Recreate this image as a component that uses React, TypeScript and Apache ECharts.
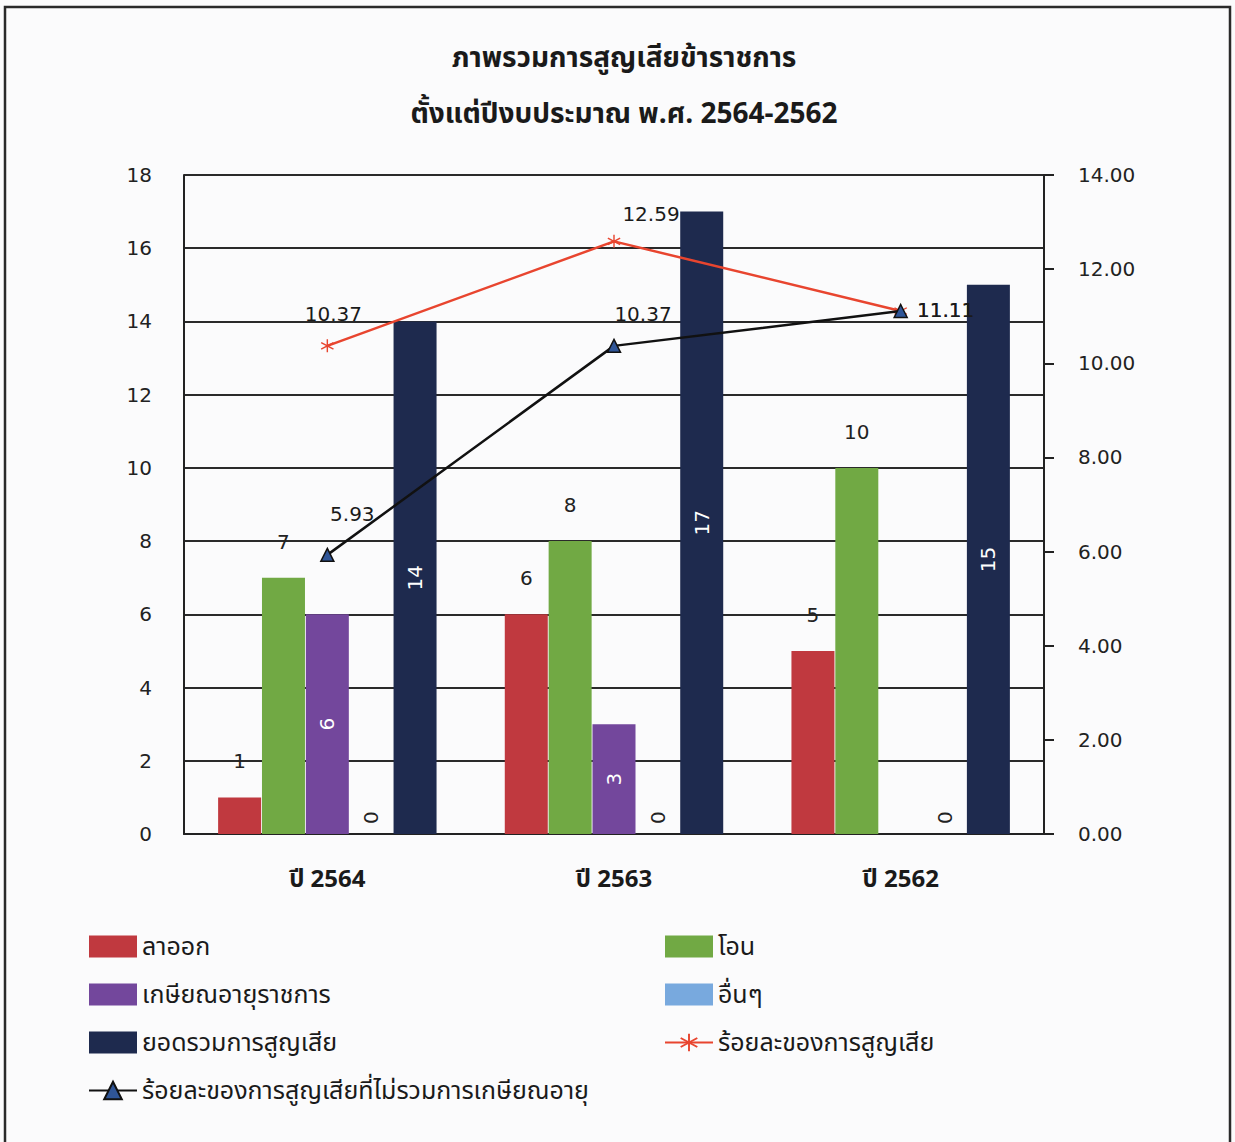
import React, { useEffect, useRef } from "react";
import * as echarts from "echarts";

// Budget years shown on the category axis
const categories = ["ปี 2564", "ปี 2563", "ปี 2562"];

// Head counts (left axis)
const resign = [1, 6, 5];
const transfer = [7, 8, 10];
const retire = [6, 3, 0];
const other = [0, 0, 0];
const totalLoss = [14, 17, 15];

// Percentages (right axis)
const lossPct = [10.37, 12.59, 11.11];
const lossPctExRetire = [5.93, 10.37, 11.11];

// Axis ranges
const leftMax = 18;
const leftStep = 2;
const rightMax = 14;
const rightStep = 2;

const NUM_FONT = "'DejaVu Sans', Verdana, sans-serif";
const THAI_FONT = "'Noto Sans Thai', 'Loma', 'Garuda', 'Norasi', 'Tlwg Typist', sans-serif";

// asterisk marker for the loss-percentage line
const ASTERISK =
  "path://M-1,-10 L1,-10 L1,10 L-1,10 Z M8.16,-5.87 L9.16,-4.13 L-8.16,5.87 L-9.16,4.13 Z M-9.16,-4.13 L-8.16,-5.87 L9.16,4.13 L8.16,5.87 Z";

const redLabelOffsets = [
  [6, -32],
  [37, -27],
  [45, -1],
];
const blackLabelOffsets = [
  [25, -41],
  [29, -32],
  [45, -1],
];

export default function App() {
  const ref = useRef<HTMLDivElement>(null);

  useEffect(() => {
    if (!ref.current) return;
    const chart = echarts.init(ref.current, null, { renderer: "svg" });

    const barLabelTop = {
      show: true,
      position: "top",
      distance: 26,
      fontFamily: NUM_FONT,
      fontSize: 20,
      color: "#222",
    };
    const barLabelInside = {
      show: true,
      position: "inside",
      rotate: 90,
      fontFamily: NUM_FONT,
      fontSize: 20,
      color: "#ffffff",
    };

    const lineData = (vals: number[], offsets: number[][]) =>
      vals.map((v, i) => ({
        value: v,
        label: { offset: offsets[i] },
      }));

    const legendText = { fontFamily: THAI_FONT, fontSize: 25, color: "#1a1a1a", lineHeight: 22 };

    const option: any = {
      animation: false,
      backgroundColor: "#fbfbfc",
      title: {
        text: "ภาพรวมการสูญเสียข้าราชการ\nตั้งแต่ปีงบประมาณ พ.ศ. 2564-2562",
        left: 619,
        textAlign: "center",
        top: 25,
        textStyle: {
          fontFamily: THAI_FONT,
          fontSize: 28,
          fontWeight: "bold",
          color: "#1a1a1a",
          lineHeight: 56,
        },
      },
      graphic: [
        {
          type: "rect",
          shape: { x: 5, y: 7, width: 1225, height: 1170 },
          style: { fill: "none", stroke: "#2a2a2a", lineWidth: 2.5 },
          silent: true,
        },
      ],
      legend: [
        {
          orient: "vertical",
          left: 88,
          top: 934,
          padding: 0,
          itemWidth: 48,
          itemHeight: 22,
          itemGap: 23,
          data: [
            { name: "ลาออก", icon: "rect" },
            { name: "เกษียณอายุราชการ", icon: "rect" },
            { name: "ยอดรวมการสูญเสีย", icon: "rect" },
            "ร้อยละของการสูญเสียที่ไม่รวมการเกษียณอายุ",
          ],
          textStyle: legendText,
        },
        {
          orient: "vertical",
          left: 664,
          top: 934,
          padding: 0,
          itemWidth: 48,
          itemHeight: 22,
          itemGap: 23,
          data: [
            { name: "โอน", icon: "rect" },
            { name: "อื่นๆ", icon: "rect" },
            "ร้อยละของการสูญเสีย",
          ],
          textStyle: legendText,
        },
      ],
      grid: { left: 184, right: 191, top: 175, bottom: 308, containLabel: false },
      xAxis: {
        type: "category",
        data: categories,
        axisLine: { show: true, lineStyle: { color: "#222", width: 2 } },
        axisTick: { show: false },
        axisLabel: {
          margin: 34,
          fontFamily: THAI_FONT,
          fontSize: 24,
          fontWeight: "bold",
          color: "#1a1a1a",
        },
      },
      yAxis: [
        {
          type: "value",
          min: 0,
          max: leftMax,
          interval: leftStep,
          axisLine: { show: true, lineStyle: { color: "#222", width: 2 } },
          axisTick: { show: false },
          splitLine: { show: true, lineStyle: { color: "#2a2a2a", width: 2 } },
          axisLabel: {
            margin: 32,
            fontFamily: NUM_FONT,
            fontSize: 20,
            color: "#222",
          },
        },
        {
          type: "value",
          min: 0,
          max: rightMax,
          interval: rightStep,
          position: "right",
          axisLine: { show: true, lineStyle: { color: "#222", width: 2 } },
          axisTick: { show: true, length: 10, lineStyle: { color: "#222", width: 2 } },
          splitLine: { show: false },
          axisLabel: {
            margin: 34,
            fontFamily: NUM_FONT,
            fontSize: 20,
            color: "#222",
            formatter: (v: number) => v.toFixed(2),
          },
        },
      ],
      series: [
        {
          name: "ลาออก",
          type: "bar",
          data: resign,
          barWidth: 43,
          barGap: "2%",
          itemStyle: { color: "#c0393f" },
          label: barLabelTop,
        },
        {
          name: "โอน",
          type: "bar",
          data: transfer,
          barWidth: 43,
          barGap: "2%",
          itemStyle: { color: "#71a944" },
          label: barLabelTop,
        },
        {
          name: "เกษียณอายุราชการ",
          type: "bar",
          data: retire,
          barWidth: 43,
          barGap: "2%",
          itemStyle: { color: "#73479c" },
          label: {
            ...barLabelInside,
            formatter: (p: any) => (p.value === 0 ? "" : String(p.value)),
          },
        },
        {
          name: "อื่นๆ",
          type: "bar",
          data: other,
          barWidth: 43,
          barGap: "2%",
          itemStyle: { color: "#78a9de" },
          label: {
            show: true,
            position: "top",
            rotate: 90,
            align: "left",
            verticalAlign: "middle",
            distance: 10,
            fontFamily: NUM_FONT,
            fontSize: 20,
            color: "#222",
          },
        },
        {
          name: "ยอดรวมการสูญเสีย",
          type: "bar",
          data: totalLoss,
          barWidth: 43,
          barGap: "2%",
          itemStyle: { color: "#1e2a4e" },
          label: barLabelInside,
        },
        {
          name: "ร้อยละของการสูญเสีย",
          type: "line",
          yAxisIndex: 1,
          data: lineData(lossPct, redLabelOffsets),
          symbol: ASTERISK,
          symbolSize: 13,
          z: 5,
          lineStyle: { color: "#e8452f", width: 2.5 },
          itemStyle: { color: "#e8452f" },
          label: {
            show: true,
            position: "inside",
            fontFamily: NUM_FONT,
            fontSize: 20,
            color: "#1a1a1a",
            formatter: (p: any) => Number(p.value).toFixed(2),
          },
        },
        {
          name: "ร้อยละของการสูญเสียที่ไม่รวมการเกษียณอายุ",
          type: "line",
          yAxisIndex: 1,
          data: lineData(lossPctExRetire, blackLabelOffsets),
          symbol: "triangle",
          symbolSize: 13,
          z: 6,
          lineStyle: { color: "#111", width: 2.5 },
          itemStyle: { color: "#2f5597", borderColor: "#111", borderWidth: 1.5 },
          label: {
            show: true,
            position: "inside",
            fontFamily: NUM_FONT,
            fontSize: 20,
            color: "#1a1a1a",
            formatter: (p: any) => Number(p.value).toFixed(2),
          },
        },
      ],
    };

    chart.setOption(option);
    return () => chart.dispose();
  }, []);

  return (
    <div
      ref={ref}
      style={{ position: "absolute", left: 0, top: 0, width: 1235, height: 1142 }}
    />
  );
}
